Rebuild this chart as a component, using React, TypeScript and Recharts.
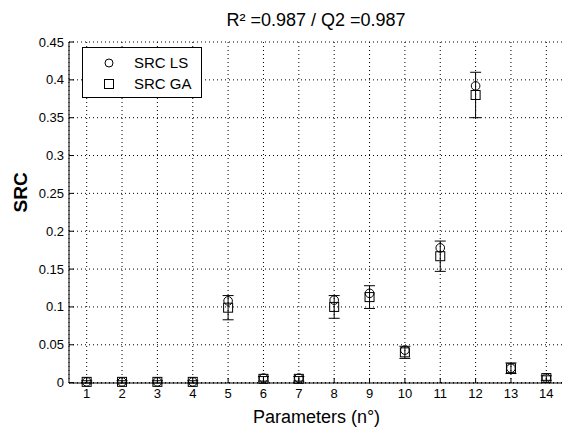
import React from 'react';
import { ScatterChart, Scatter, XAxis, YAxis, CartesianGrid, ErrorBar, Legend } from 'recharts';

const params = [1, 2, 3, 4, 5, 6, 7, 8, 9, 10, 11, 12, 13, 14];
const srcLS = [0.001, 0.001, 0.001, 0.001, 0.108, 0.006, 0.006, 0.109, 0.118, 0.043, 0.178, 0.392, 0.019, 0.006];
const srcGA = [0.001, 0.001, 0.001, 0.001, 0.099, 0.005, 0.005, 0.1, 0.113, 0.04, 0.167, 0.38, 0.019, 0.006];
const gaError = [0.0015, 0.0015, 0.0015, 0.0015, 0.016, 0.003, 0.003, 0.015, 0.015, 0.008, 0.02, 0.03, 0.007, 0.003];
const yTicks = [0, 0.05, 0.1, 0.15, 0.2, 0.25, 0.3, 0.35, 0.4, 0.45];

const lsData = params.map((p, i) => ({ param: p, src: srcLS[i] }));
const gaData = params.map((p, i) => ({ param: p, src: srcGA[i], err: gaError[i] }));

const FONT = 'Arial, "Liberation Sans", Helvetica, sans-serif';
const TICK = 5;

const CircleMark = (props: any) => (
  <circle cx={props.cx} cy={props.cy} r={4.3} fill="none" stroke="#000" strokeWidth={1} />
);
const SquareMark = (props: any) => (
  <rect x={props.cx - 4.5} y={props.cy - 4.5} width={9} height={9} fill="none" stroke="#000" strokeWidth={1} />
);

const fmtY = (v: number) => String(Number(v.toFixed(2)));

// MATLAB style ticks point inwards
const BottomTick = (props: any) => {
  const { x, y, payload } = props;
  return (
    <g>
      <line x1={x} y1={y} x2={x} y2={y - TICK} stroke="#000" />
      <text x={x} y={y + 15} textAnchor="middle" fontSize={13} fontFamily={FONT} fill="#000">
        {payload.value}
      </text>
    </g>
  );
};
const TopTick = (props: any) => (
  <line x1={props.x} y1={props.y} x2={props.x} y2={props.y + TICK} stroke="#000" />
);
const LeftTick = (props: any) => {
  const { x, y, payload } = props;
  return (
    <g>
      <line x1={x} y1={y} x2={x + TICK} y2={y} stroke="#000" />
      <text x={x - 5} y={y + 4.5} textAnchor="end" fontSize={13} fontFamily={FONT} fill="#000">
        {fmtY(payload.value)}
      </text>
    </g>
  );
};
const RightTick = (props: any) => (
  <line x1={props.x} y1={props.y} x2={props.x - TICK} y2={props.y} stroke="#000" />
);

const LegendBox = () => (
  <div
    style={{
      width: 118,
      height: 49,
      border: '1px solid #000',
      background: '#fff',
      fontFamily: FONT,
      fontSize: 15,
      color: '#000',
      position: 'relative',
    }}
  >
    <svg width={20} height={49} style={{ position: 'absolute', left: 16, top: 0 }}>
      <circle cx={10} cy={15} r={4} fill="none" stroke="#000" />
      <rect x={5.5} y={31.5} width={9} height={9} fill="none" stroke="#000" />
    </svg>
    <div style={{ position: 'absolute', left: 51, top: 6, lineHeight: '18px' }}>SRC LS</div>
    <div style={{ position: 'absolute', left: 51, top: 27, lineHeight: '18px' }}>SRC GA</div>
  </div>
);

export default function App() {
  return (
    <div
      style={{
        position: 'absolute',
        left: 0,
        top: 0,
        width: 562,
        height: 427,
        overflow: 'hidden',
        background: '#fff',
        fontFamily: FONT,
      }}
    >
      <div
        style={{
          position: 'absolute',
          left: 0,
          width: 632,
          top: 9,
          textAlign: 'center',
          fontSize: 18,
          color: '#000',
          lineHeight: '22px',
        }}
      >
        R² =0.987 / Q2 =0.987
      </div>
      <ScatterChart width={564} height={427} margin={{ top: 42, right: 0, bottom: 0, left: 0 }}>
        <CartesianGrid strokeDasharray="1 3" stroke="#000" />
        <XAxis
          type="number"
          dataKey="param"
          domain={[0.5, 14.5]}
          ticks={params}
          interval={0}
          height={44}
          tickSize={0}
          tickMargin={0}
          tickLine={false}
          axisLine={{ stroke: '#000' }}
          tick={<BottomTick />}
          label={{ value: 'Parameters (n°)', position: 'insideBottom', offset: 4, fontSize: 18, fill: '#000', fontFamily: FONT }}
        />
        <XAxis
          xAxisId="top"
          orientation="top"
          type="number"
          dataKey="param"
          domain={[0.5, 14.5]}
          ticks={params}
          interval={0}
          height={0}
          tickSize={0}
          tickMargin={0}
          tickLine={false}
          axisLine={{ stroke: '#000' }}
          tick={<TopTick />}
        />
        <YAxis
          type="number"
          dataKey="src"
          domain={[0, 0.45]}
          ticks={yTicks}
          interval={0}
          width={69}
          tickSize={0}
          tickMargin={0}
          tickLine={false}
          axisLine={{ stroke: '#000' }}
          tick={<LeftTick />}
          label={{ value: 'SRC', angle: -90, position: 'insideLeft', offset: 20, fontSize: 19, fontWeight: 'bold', fill: '#000', fontFamily: FONT }}
        />
        <YAxis
          yAxisId="r"
          orientation="right"
          type="number"
          domain={[0, 0.45]}
          ticks={yTicks}
          interval={0}
          width={0}
          tickSize={0}
          tickMargin={0}
          tickLine={false}
          axisLine={{ stroke: '#000' }}
          tick={<RightTick />}
        />
        <Legend
          layout="horizontal"
          verticalAlign="middle"
          align="center"
          content={() => <LegendBox />}
          wrapperStyle={{ left: 82, top: 47, width: 120, height: 51 }}
        />
        <Scatter name="SRC LS" data={lsData} shape={<CircleMark />} isAnimationActive={false} />
        <Scatter name="SRC GA" data={gaData} shape={<SquareMark />} isAnimationActive={false}>
          <ErrorBar dataKey="err" direction="y" width={5.5} stroke="#000" strokeWidth={1} />
        </Scatter>
      </ScatterChart>
    </div>
  );
}
